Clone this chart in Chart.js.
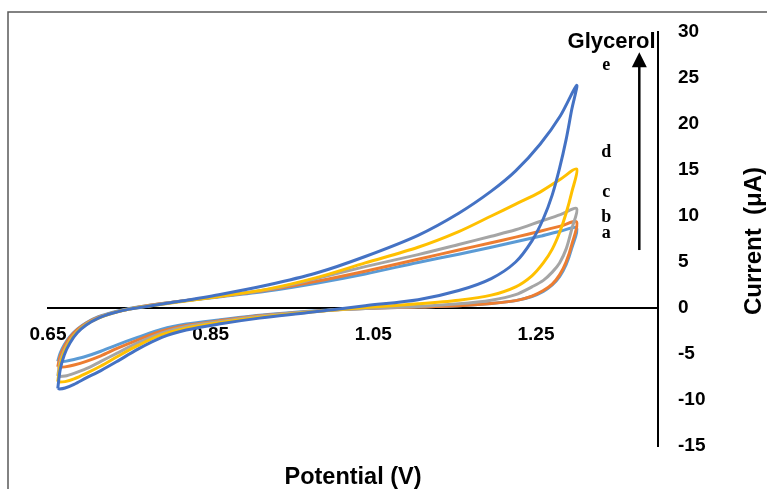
<!DOCTYPE html>
<html>
<head>
<meta charset="utf-8">
<title>Glycerol CV</title>
<script src="https://cdn.jsdelivr.net/npm/chart.js@4.4.0/dist/chart.umd.min.js"></script>
<style>
  html, body { margin: 0; padding: 0; background: #fff; }
</style>
</head>
<body>
<canvas id="cv" width="767" height="489"></canvas>
<script>
// potential sweep (V): forward scan up to 1.30, then back down
const potential = [
  0.662, 0.665, 0.670, 0.677, 0.686, 0.697, 0.712, 0.73, 0.75, 0.775, 0.81, 0.86, 0.92, 0.98, 1.04, 1.105, 1.155, 1.195, 1.225, 1.255, 1.28, 1.30,
  1.294, 1.287, 1.279, 1.27, 1.259, 1.245, 1.225, 1.195, 1.155, 1.105, 1.04, 0.97, 0.91, 0.86, 0.82, 0.79, 0.76, 0.735, 0.715, 0.697, 0.682, 0.671, 0.664, 0.662
];

// current (uA) for each glycerol level
const currentA = [
  -5.8, -4.9, -4.0, -3.1, -2.3, -1.6, -0.95, -0.45, -0.05, 0.3, 0.7, 1.2, 1.85, 2.7, 3.7, 4.95, 5.85, 6.6, 7.2, 7.8, 8.35, 8.7,
  6.5, 4.7, 3.4, 2.5, 1.8, 1.25, 0.8, 0.5, 0.25, 0.1, -0.05, -0.35, -0.8, -1.3, -1.75, -2.3, -3.2, -4.0, -4.7, -5.25, -5.6, -5.8, -5.85, -5.8
];
const currentB = [
  -6.4, -5.2, -4.2, -3.2, -2.35, -1.65, -1.0, -0.5, -0.1, 0.3, 0.7, 1.25, 1.95, 2.9, 4.0, 5.3, 6.3, 7.1, 7.7, 8.35, 8.9, 9.35,
  6.9, 5.0, 3.6, 2.6, 1.9, 1.3, 0.8, 0.5, 0.25, 0.1, -0.05, -0.4, -0.85, -1.4, -1.9, -2.5, -3.5, -4.4, -5.2, -5.8, -6.2, -6.4, -6.45, -6.4
];
const currentC = [
  -7.4, -5.8, -4.6, -3.5, -2.55, -1.75, -1.05, -0.5, -0.1, 0.25, 0.7, 1.25, 2.0, 3.2, 4.5, 5.8, 6.9, 7.8, 8.5, 9.4, 10.15, 10.8,
  8.6, 6.4, 4.9, 3.9, 3.0, 2.3, 1.45, 0.85, 0.45, 0.15, -0.05, -0.4, -0.9, -1.5, -2.0, -2.7, -3.8, -4.9, -5.8, -6.6, -7.1, -7.4, -7.45, -7.4
];
const currentD = [
  -8.0, -6.2, -4.8, -3.6, -2.6, -1.8, -1.1, -0.55, -0.12, 0.22, 0.65, 1.25, 2.05, 3.3, 4.9, 6.6, 8.3, 10.0, 11.3, 12.6, 14.0, 15.1,
  12.6, 10.3, 8.2, 6.4, 4.9, 3.5, 2.3, 1.4, 0.85, 0.45, 0.05, -0.45, -1.0, -1.6, -2.2, -2.9, -4.1, -5.3, -6.3, -7.1, -7.7, -8.0, -8.05, -8.0
];
const currentE = [
  -8.75, -6.7, -5.1, -3.8, -2.7, -1.85, -1.1, -0.55, -0.12, 0.22, 0.7, 1.45, 2.5, 3.8, 5.6, 7.9, 10.3, 12.7, 14.9, 17.8, 20.9, 24.2,
  21.6, 18.3, 15.2, 12.3, 9.7, 7.3, 5.0, 3.2, 1.9, 0.9, 0.25, -0.5, -1.1, -1.75, -2.4, -3.2, -4.5, -5.8, -6.8, -7.6, -8.3, -8.7, -8.8, -8.75
];

const curveNames = ['a', 'b', 'c', 'd', 'e'];
const curveColors = ['#5B9BD5', '#ED7D31', '#A5A5A5', '#FFC000', '#4472C4'];
const curveSets = [currentA, currentB, currentC, currentD, currentE];

const xTicks = [0.65, 0.85, 1.05, 1.25];
const yTicks = [-15, -10, -5, 0, 5, 10, 15, 20, 25, 30];

// where the a..e tags sit, in axis units
const tagX = 1.3365;
const tagY = [7.6, 9.35, 12.1, 16.4, 25.9];

const datasets = curveSets.map((cur, i) => ({
  label: curveNames[i],
  data: potential.map((p, j) => ({ x: p, y: cur[j] })),
  borderColor: curveColors[i],
  borderWidth: 3,
  pointRadius: 0,
  showLine: true,
  fill: false,
  tension: 0.3,
  order: curveSets.length - i
}));

const sansBold = '"Liberation Sans", Arial, sans-serif';

// frame, arrow, tags and axis titles
const decorations = {
  id: 'decorations',
  afterDraw(chart) {
    const ctx = chart.ctx;
    const xs = chart.scales.x, ys = chart.scales.y;
    const area = chart.chartArea;
    ctx.save();

    ctx.strokeStyle = '#595959';
    ctx.lineWidth = 1.5;
    ctx.strokeRect(8, 12, 900, 600);

    // glycerol arrow
    const ax = xs.getPixelForValue(1.377);
    const ay0 = ys.getPixelForValue(6.3);
    const ay1 = ys.getPixelForValue(27.8);
    ctx.strokeStyle = '#000';
    ctx.lineWidth = 2.5;
    ctx.beginPath();
    ctx.moveTo(ax, ay0);
    ctx.lineTo(ax, ay1 + 12);
    ctx.stroke();
    ctx.fillStyle = '#000';
    ctx.beginPath();
    ctx.moveTo(ax, ay1);
    ctx.lineTo(ax - 7.5, ay1 + 15);
    ctx.lineTo(ax + 7.5, ay1 + 15);
    ctx.closePath();
    ctx.fill();

    ctx.font = 'bold 22px ' + sansBold;
    ctx.textAlign = 'right';
    ctx.textBaseline = 'alphabetic';
    ctx.fillText('Glycerol', xs.getPixelForValue(1.397), ys.getPixelForValue(28.3));

    ctx.font = 'bold 18px "Liberation Serif", "Times New Roman", serif';
    ctx.textAlign = 'center';
    curveNames.forEach((n, i) => {
      ctx.fillText(n, xs.getPixelForValue(tagX), ys.getPixelForValue(tagY[i]));
    });

    ctx.font = 'bold 23.5px ' + sansBold;
    ctx.fillText('Potential (V)', (area.left + area.right) / 2, 484);

    // rotated y title
    ctx.font = 'bold 24px ' + sansBold;
    ctx.translate(761, (area.top + area.bottom) / 2 + 2);
    ctx.rotate(-Math.PI / 2);
    ctx.textAlign = 'center';
    ctx.fillText('Current  (\u03bcA)', 0, 0);
    ctx.restore();
  }
};

new Chart(document.getElementById('cv'), {
  type: 'scatter',
  data: { datasets },
  options: {
    responsive: false,
    animation: false,
    layout: { padding: { left: 48, top: 32, bottom: 43, right: 0 } },
    plugins: { legend: { display: false }, tooltip: { enabled: false } },
    scales: {
      x: {
        type: 'linear',
        position: { y: 0 },
        min: 0.65,
        max: 1.4,
        afterBuildTicks: s => { s.ticks = xTicks.map(v => ({ value: v })); },
        afterFit: s => { s.height = 0; },
        grid: { display: false, drawTicks: false },
        border: { display: true, color: '#000', width: 2 },
        ticks: {
          padding: 15,
          color: '#000',
          font: { family: sansBold, size: 19, weight: 'bold' },
          callback: v => v.toFixed(2)
        }
      },
      y: {
        type: 'linear',
        position: 'right',
        min: -15,
        max: 30,
        afterBuildTicks: s => { s.ticks = yTicks.map(v => ({ value: v })); },
        afterFit: s => { s.width = 109; },
        grid: { display: false, drawTicks: false },
        border: { display: true, color: '#000', width: 2 },
        ticks: {
          padding: 20,
          color: '#000',
          font: { family: sansBold, size: 19, weight: 'bold' }
        }
      }
    }
  },
  plugins: [decorations]
});
</script>
</body>
</html>
